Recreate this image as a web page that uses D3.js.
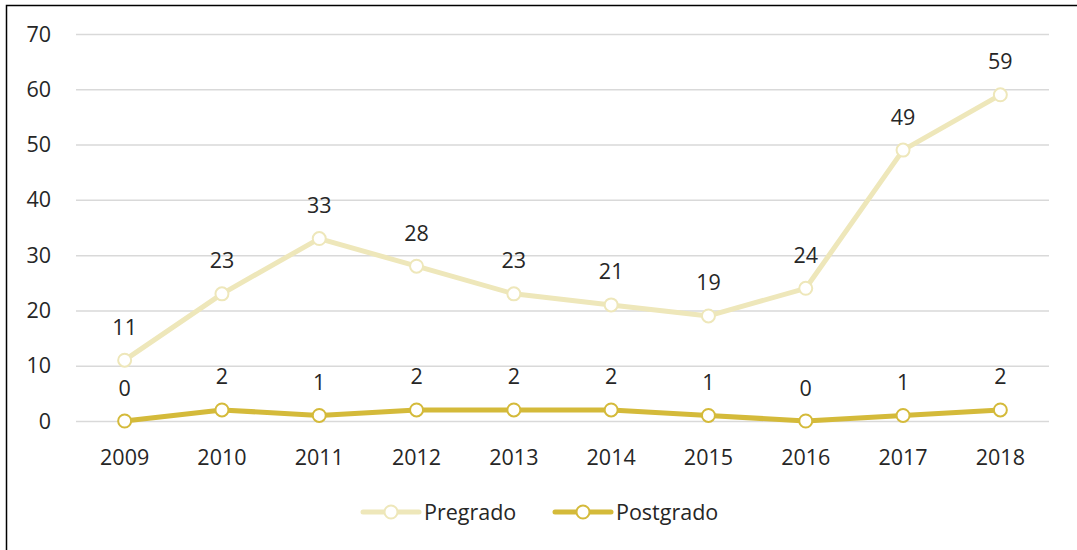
<!DOCTYPE html>
<html>
<head>
<meta charset="utf-8">
<script src="https://cdn.jsdelivr.net/npm/d3@7"></script>
<style>
  body { margin: 0; background: #fff; }
  svg { display: block; font-family: "Open Sans", Lato, sans-serif; }
</style>
</head>
<body>
<svg id="chart" width="1077" height="550"></svg>
<script>
// chart data
var years = ["2009","2010","2011","2012","2013","2014","2015","2016","2017","2018"];
var pregrado = [11, 23, 33, 28, 23, 21, 19, 24, 49, 59];
var postgrado = [0, 2, 1, 2, 2, 2, 1, 0, 1, 2];
var yTicks = [0, 10, 20, 30, 40, 50, 60, 70];
var seriesNames = ["Pregrado", "Postgrado"];
var seriesColors = ["#EEE7BA", "#D4BA3A"];

var svg = d3.select("#chart");
var fontSize = 21.5;

// outer frame (left + top visible)
svg.append("path")
  .attr("d", "M6.5,550 L6.5,5.5 L1077,5.5")
  .attr("fill", "none")
  .attr("stroke", "#000")
  .attr("stroke-width", 1.5);

var x = d3.scaleBand().domain(years).range([76, 1049]);
var y = d3.scaleLinear().domain([0, 70]).range([421, 34]);

// grid
svg.append("g").selectAll("line")
  .data(yTicks)
  .enter().append("line")
  .attr("x1", 76).attr("x2", 1049)
  .attr("y1", function(d){ return y(d) + 0.5; })
  .attr("y2", function(d){ return y(d) + 0.5; })
  .attr("stroke", "#d9d9d9")
  .attr("stroke-width", 1.5);

// y labels
svg.append("g").selectAll("text")
  .data(yTicks)
  .enter().append("text")
  .attr("x", 51)
  .attr("y", function(d){ return y(d); })
  .attr("dy", "0.35em")
  .attr("text-anchor", "end")
  .attr("font-size", fontSize)
  .attr("fill", "#262626")
  .text(function(d){ return d; });

// x labels
svg.append("g").selectAll("text")
  .data(years)
  .enter().append("text")
  .attr("x", function(d){ return x(d) + x.bandwidth() / 2; })
  .attr("y", 457)
  .attr("dy", "0.35em")
  .attr("text-anchor", "middle")
  .attr("font-size", fontSize)
  .attr("fill", "#262626")
  .text(function(d){ return d; });

var line = d3.line()
  .x(function(d, i){ return x(years[i]) + x.bandwidth() / 2; })
  .y(function(d){ return y(d); });

function drawSeries(values, color, labelOffset){
  var g = svg.append("g");
  g.append("path")
    .datum(values)
    .attr("d", line)
    .attr("fill", "none")
    .attr("stroke", color)
    .attr("stroke-width", 5)
    .attr("stroke-linejoin", "round");
  g.selectAll("circle")
    .data(values)
    .enter().append("circle")
    .attr("cx", function(d, i){ return x(years[i]) + x.bandwidth() / 2; })
    .attr("cy", function(d){ return y(d); })
    .attr("r", 6.5)
    .attr("fill", "#fff")
    .attr("stroke", color)
    .attr("stroke-width", 2);
  g.selectAll("text")
    .data(values)
    .enter().append("text")
    .attr("x", function(d, i){ return x(years[i]) + x.bandwidth() / 2; })
    .attr("y", function(d){ return y(d) - labelOffset; })
    .attr("dy", "0.35em")
    .attr("text-anchor", "middle")
    .attr("font-size", fontSize)
    .attr("fill", "#262626")
    .text(function(d){ return d; });
}

drawSeries(pregrado, seriesColors[0], 33);
drawSeries(postgrado, seriesColors[1], 33);

// legend
var legendX = [363, 555];
var legend = svg.append("g").selectAll("g")
  .data(seriesNames)
  .enter().append("g")
  .attr("transform", function(d, i){ return "translate(" + legendX[i] + ",512)"; });
legend.append("line")
  .attr("x1", 0).attr("x2", 56)
  .attr("stroke", function(d, i){ return seriesColors[i]; })
  .attr("stroke-width", 5)
  .attr("stroke-linecap", "round");
legend.append("circle")
  .attr("cx", 28).attr("r", 6.5)
  .attr("fill", "#fff")
  .attr("stroke", function(d, i){ return seriesColors[i]; })
  .attr("stroke-width", 2);
legend.append("text")
  .attr("x", 61)
  .attr("dy", "0.35em")
  .attr("font-size", fontSize)
  .attr("fill", "#262626")
  .text(function(d){ return d; });
</script>
</body>
</html>
